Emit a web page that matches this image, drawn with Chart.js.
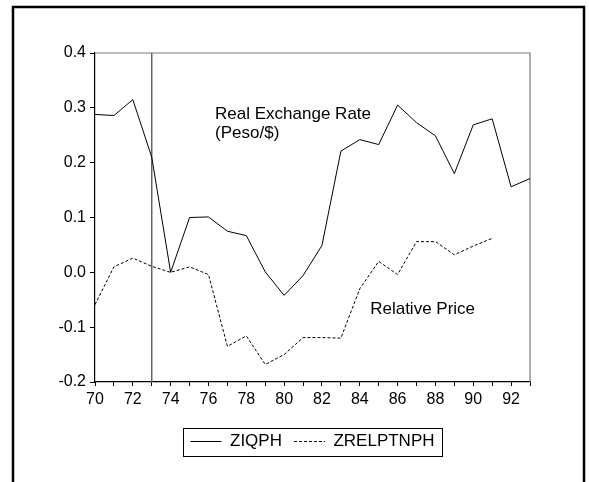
<!DOCTYPE html>
<html>
<head>
<meta charset="utf-8">
<script src="https://cdn.jsdelivr.net/npm/chart.js@4.4.1/dist/chart.umd.min.js"></script>
<style>
  html, body { margin: 0; padding: 0; background: #fff; }
  canvas { display: block; }
</style>
</head>
<body>
<canvas id="chart" width="589" height="482"></canvas>
<script>
const years = ["70", "71", "72", "73", "74", "75", "76", "77", "78", "79", "80", "81",
               "82", "83", "84", "85", "86", "87", "88", "89", "90", "91", "92", "93"];
const ziqph = [0.288, 0.286, 0.315, 0.210, 0.000, 0.100, 0.101, 0.075, 0.067, 0.001, -0.042, -0.006,
               0.049, 0.221, 0.242, 0.233, 0.305, 0.273, 0.249, 0.180, 0.269, 0.280, 0.156, 0.171];
const zrelptnph = [-0.059, 0.010, 0.026, 0.011, 0.000, 0.010, -0.004, -0.135, -0.116, -0.168, -0.150, -0.119,
                   -0.119, -0.120, -0.030, 0.020, -0.004, 0.056, 0.056, 0.032, 0.048, 0.062, null, null];
const seriesNames = ["ZIQPH", "ZRELPTNPH"];
const breakYear = "73";
const FONT = "Arial, 'Liberation Sans', sans-serif";

// text notes placed in data units
const notes = [
    { text: "Real Exchange Rate", x: 6.35, y: 0.289 },
    { text: "(Peso/$)", x: 6.35, y: 0.253 },
    { text: "Relative Price", x: 14.55, y: -0.068 }
];

const decorations = {
    id: "decorations",
    beforeDatasetsDraw(chart) {
        const { ctx, chartArea: a, scales } = chart;
        ctx.save();
        // top and right frame of the plot
        ctx.strokeStyle = "#7a7a7a";
        ctx.lineWidth = 1.2;
        ctx.beginPath();
        ctx.moveTo(a.left, a.top);
        ctx.lineTo(a.right, a.top);
        ctx.lineTo(a.right, a.bottom);
        ctx.stroke();
        // vertical marker line
        const bx = scales.x.getPixelForValue(years.indexOf(breakYear));
        ctx.strokeStyle = "#666";
        ctx.lineWidth = 1.5;
        ctx.beginPath();
        ctx.moveTo(bx, a.top);
        ctx.lineTo(bx, a.bottom);
        ctx.stroke();
        ctx.restore();
    },
    afterDraw(chart) {
        const { ctx, scales, legend } = chart;
        ctx.save();
        ctx.fillStyle = "#000";
        ctx.font = "17px " + FONT;
        ctx.textBaseline = "middle";
        notes.forEach(n => {
            ctx.fillText(n.text, scales.x.getPixelForValue(n.x), scales.y.getPixelForValue(n.y));
        });
        // legend box
        const boxes = legend.legendHitBoxes;
        if (boxes && boxes.length) {
            const l = Math.min(...boxes.map(b => b.left)) - 7;
            const r = Math.max(...boxes.map(b => b.left + b.width)) + 8;
            const t = Math.min(...boxes.map(b => b.top));
            const btm = Math.max(...boxes.map(b => b.top + b.height));
            const c = (t + btm) / 2;
            ctx.strokeStyle = "#000";
            ctx.lineWidth = 1;
            ctx.strokeRect(Math.round(l) + 0.5, Math.round(c - 14) + 0.5, Math.round(r - l), 28);
        }
        // outer frame
        ctx.lineWidth = 2.5;
        ctx.strokeRect(13, 7, 571, 490);
        ctx.restore();
    }
};

new Chart(document.getElementById("chart"), {
    type: "line",
    data: {
        labels: years,
        datasets: [
            {
                label: seriesNames[0],
                data: ziqph,
                borderColor: "#000",
                backgroundColor: "#000",
                borderWidth: 1,
                pointRadius: 0,
                tension: 0
            },
            {
                label: seriesNames[1],
                data: zrelptnph,
                borderColor: "#000",
                backgroundColor: "#000",
                borderWidth: 1,
                borderDash: [3, 2],
                pointRadius: 0,
                tension: 0,
                spanGaps: false
            }
        ]
    },
    options: {
        responsive: false,
        animation: false,
        layout: { padding: { top: 53, right: 59, left: 0, bottom: 22 } },
        plugins: {
            legend: {
                position: "bottom",
                fullSize: false,
                labels: {
                    color: "#000",
                    font: { family: FONT, size: 17 },
                    usePointStyle: true,
                    pointStyle: "line",
                    pointStyleWidth: 31,
                    padding: 12,
                    generateLabels(chart) {
                        const items = Chart.defaults.plugins.legend.labels.generateLabels(chart);
                        items.forEach(it => {
                            it.lineDash = chart.data.datasets[it.datasetIndex].borderDash || [];
                            it.lineWidth = 1;
                        });
                        return items;
                    }
                }
            },
            tooltip: { enabled: false }
        },
        scales: {
            x: {
                offset: false,
                grid: { display: true, drawOnChartArea: false, drawTicks: true, tickLength: 4, color: "#000" },
                border: { display: true, color: "#000", width: 1.2 },
                ticks: {
                    autoSkip: false,
                    maxRotation: 0,
                    padding: 4,
                    color: "#000",
                    font: { family: FONT, size: 16 },
                    callback: function (value, index) {
                        return index % 2 === 0 ? this.getLabelForValue(value) : "";
                    }
                },
                afterFit(scale) { scale.height = 39; }
            },
            y: {
                min: -0.2,
                max: 0.4,
                grid: { display: true, drawOnChartArea: false, drawTicks: true, tickLength: 5, color: "#000" },
                border: { display: true, color: "#000", width: 1.2 },
                ticks: {
                    stepSize: 0.1,
                    padding: 4,
                    color: "#000",
                    font: { family: FONT, size: 16 },
                    callback: v => v.toFixed(1)
                },
                afterFit(scale) { scale.width = 95; }
            }
        }
    },
    plugins: [decorations]
});
</script>
</body>
</html>
